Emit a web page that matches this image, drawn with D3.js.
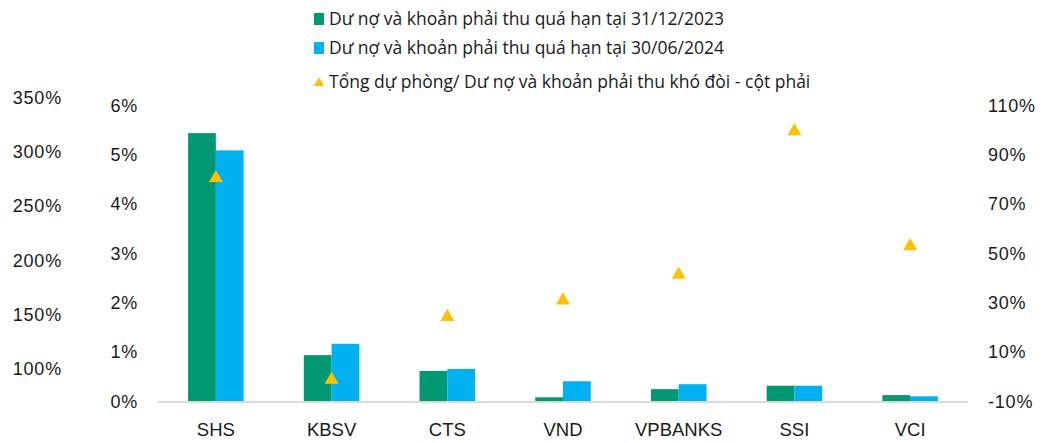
<!DOCTYPE html>
<html>
<head>
<meta charset="utf-8">
<script src="https://cdn.jsdelivr.net/npm/d3@7"></script>
<style>
  body { margin: 0; background: #fff; }
  text { font-family: "Liberation Sans", Arial, sans-serif; fill: #1a1a1a; }
  .legend text { font-family: "Open Sans", "Liberation Sans", sans-serif; }
</style>
</head>
<body>
<div id="chart"></div>
<script>
const categories = ["SHS", "KBSV", "CTS", "VND", "VPBANKS", "SSI", "VCI"];
const overdue2023 = [0.0544, 0.0094, 0.0062, 0.00085, 0.0025, 0.0032, 0.0013];
const overdue2024 = [0.0509, 0.0117, 0.0066, 0.0041, 0.0035, 0.0032, 0.00105];
const provisionRatio = [0.814, -0.0035, 0.251, 0.318, 0.422, 1.004, 0.538];
const leftTicks = [0, 0.01, 0.02, 0.03, 0.04, 0.05, 0.06];
const rightTicks = [-0.1, 0.1, 0.3, 0.5, 0.7, 0.9, 1.1];
const outerTicks = [1, 1.5, 2, 2.5, 3, 3.5];
const legendLabels = [
  "Dư nợ và khoản phải thu quá hạn tại 31/12/2023",
  "Dư nợ và khoản phải thu quá hạn tại 30/06/2024",
  "Tổng dự phòng/ Dư nợ và khoản phải thu khó đòi - cột phải"
];

const green = "#009973", blue = "#00B0F0", yellow = "#FFC000";

const width = 1059, height = 443;
const svg = d3.select("#chart").append("svg")
  .attr("width", width).attr("height", height);

const plot = {left: 158, right: 968, top: 105.5, bottom: 401.5};

const x = d3.scaleBand().domain(categories)
  .range([plot.left, plot.right]).paddingInner(0.52).paddingOuter(0.26);
const xSub = d3.scaleBand().domain(["a", "b"]).range([0, x.bandwidth()]);
const y = d3.scaleLinear().domain([0, 0.06]).range([plot.bottom, plot.top]);
const yR = d3.scaleLinear().domain([-0.1, 1.1]).range([plot.bottom, plot.top]);
const yOuter = d3.scaleLinear().domain([1, 3.5]).range([369, 97.5]);

// excel style: plain hyphen for negatives
const pct = v => d3.format(".0%")(v).replace("\u2212", "-");

// bars
const groups = svg.append("g").selectAll("g")
  .data(categories).join("g")
  .attr("transform", d => "translate(" + x(d) + ",0)");

groups.append("rect")
  .attr("x", xSub("a")).attr("width", xSub.bandwidth())
  .attr("y", (d, i) => y(overdue2023[i]))
  .attr("height", (d, i) => y(0) - y(overdue2023[i]))
  .attr("fill", green);

groups.append("rect")
  .attr("x", xSub("b")).attr("width", xSub.bandwidth())
  .attr("y", (d, i) => y(overdue2024[i]))
  .attr("height", (d, i) => y(0) - y(overdue2024[i]))
  .attr("fill", blue);

// baseline
svg.append("line")
  .attr("x1", plot.left).attr("x2", plot.right)
  .attr("y1", y(0) + 0.5).attr("y2", y(0) + 0.5)
  .attr("stroke", "#d9d9d9").attr("stroke-width", 2);

// triangles on right axis (shift so the box centre sits on the value, like excel markers)
const triSize = 85;
const triShift = Math.sqrt(triSize / (3 * Math.sqrt(3))) / 2;
const tri = d3.symbol().type(d3.symbolTriangle).size(triSize);
svg.append("g").selectAll("path")
  .data(categories).join("path")
  .attr("d", tri)
  .attr("fill", yellow)
  .attr("transform", (d, i) => "translate(" + (x(d) + x.bandwidth() / 2) + "," + (yR(provisionRatio[i]) + triShift) + ")");

// axes
const leftAxis = svg.append("g")
  .attr("transform", "translate(138,0)")
  .call(d3.axisLeft(y).tickValues(leftTicks).tickFormat(pct).tickSize(0).tickPadding(0));

const rightAxis = svg.append("g")
  .attr("transform", "translate(988,0)")
  .call(d3.axisRight(yR).tickValues(rightTicks).tickFormat(pct).tickSize(0).tickPadding(0));

const outerAxis = svg.append("g")
  .attr("transform", "translate(62,0)")
  .call(d3.axisLeft(yOuter).tickValues(outerTicks).tickFormat(pct).tickSize(0).tickPadding(0));

const xAxis = svg.append("g")
  .attr("transform", "translate(0," + (plot.bottom + 21) + ")")
  .call(d3.axisBottom(x).tickSize(0).tickPadding(0));

[leftAxis, rightAxis, outerAxis, xAxis].forEach(a => {
  a.select(".domain").remove();
  a.selectAll("text").attr("font-size", 18).style("fill", "#1a1a1a")
    .attr("font-family", "Liberation Sans, Arial, sans-serif");
});
[leftAxis, rightAxis, outerAxis].forEach(a => {
  a.selectAll("text").style("letter-spacing", "0.8px");
});
xAxis.selectAll("text").attr("font-size", 18.5).attr("dy", "0.71em");

// legend
const legend = svg.append("g").attr("class", "legend");
const legendY = [19, 48, 82];
const legendItems = legend.selectAll("g")
  .data(legendLabels).join("g")
  .attr("transform", (d, i) => "translate(314," + legendY[i] + ")");

legendItems.each(function(d, i) {
  const g = d3.select(this);
  if (i < 2) {
    g.append("rect").attr("x", 0).attr("y", -6).attr("width", 10).attr("height", 12)
      .attr("fill", i == 0 ? green : blue);
  } else {
    g.append("path").attr("d", d3.symbol().type(d3.symbolTriangle).size(45))
      .attr("transform", "translate(5,1)").attr("fill", yellow);
  }
  g.append("text").attr("x", 15).attr("dy", "0.35em")
    .attr("font-size", 17.5).text(d);
});
</script>
</body>
</html>
